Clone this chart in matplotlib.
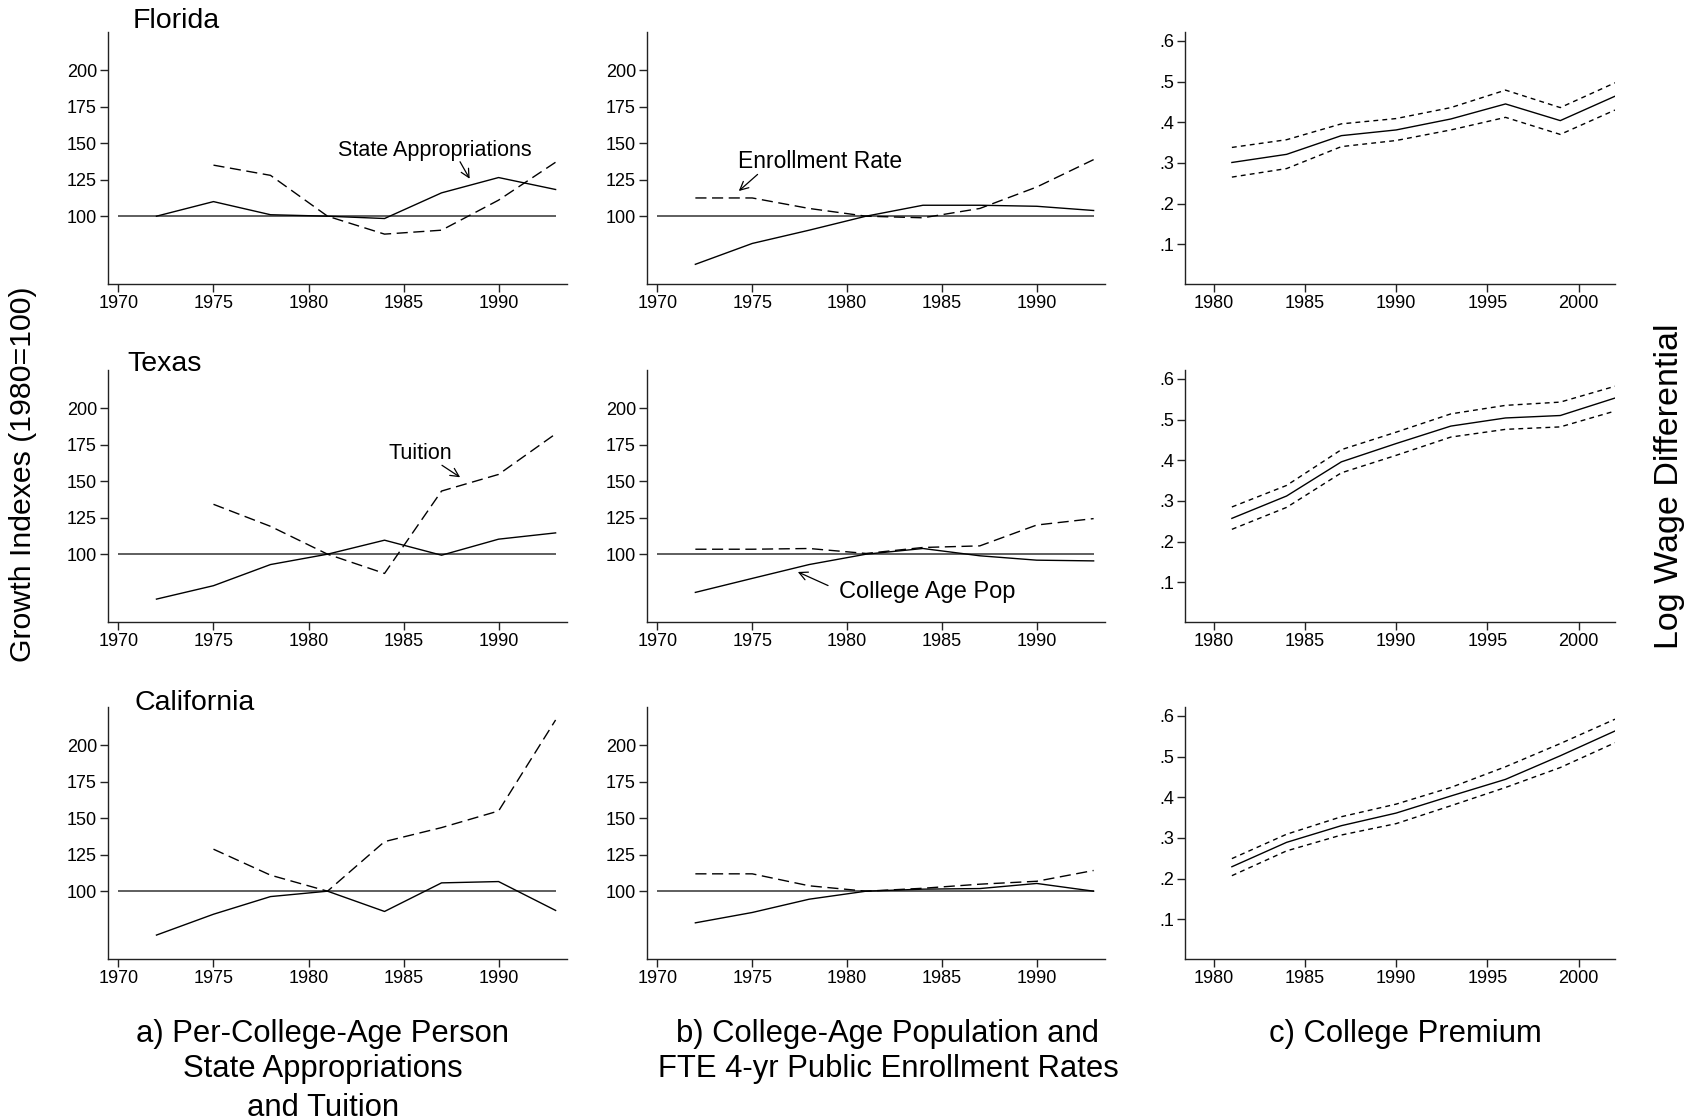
import matplotlib.pyplot as plt

plt.rcParams['font.family'] = ['Liberation Sans', 'DejaVu Sans']

# years
years_idx = [1972, 1975, 1978, 1981, 1984, 1987, 1990, 1993]
years_tuition = [1975, 1978, 1981, 1984, 1987, 1990, 1993]
years_prem = [1981, 1984, 1987, 1990, 1993, 1996, 1999, 2002]
ref_span = [1970, 1993]

states = ['Florida', 'Texas', 'California']

# a) appropriations (solid) and tuition (dashed), 1980=100
fl_approp = [100, 110, 101, 100, 98.4, 116, 126.5, 118.3]
fl_tuition = [135, 128, 100, 87.7, 90.4, 111, 137]
tx_approp = [69.2, 78.4, 92.9, 100, 109.6, 99.3, 110.3, 114.6]
tx_tuition = [134.2, 119.1, 100, 86.8, 143.3, 154.7, 182.5]
ca_approp = [69.9, 84.2, 96.3, 100, 86.1, 105.7, 106.6, 86.8]
ca_tuition = [128.8, 111, 100, 134, 143.6, 155, 217.4]

# b) college-age population (solid) and enrollment rate (dashed)
fl_pop = [67, 81.3, 90.4, 100, 107.5, 107.5, 106.8, 103.9]
fl_enroll = [112.5, 112.5, 105.3, 100, 98.9, 105.3, 120, 138.8]
tx_pop = [73.8, 83.4, 92.9, 100, 103.9, 98.9, 95.9, 95.4]
tx_enroll = [103.4, 103.4, 103.9, 100.5, 104.6, 105.7, 120, 124.4]
ca_pop = [78.3, 85.4, 94.5, 100, 101.4, 101.8, 105.3, 100]
ca_enroll = [111.9, 111.9, 103.7, 100, 102, 104.8, 106.8, 114.2]

# c) college premium with confidence band
fl_prem = [0.301, 0.321, 0.367, 0.381, 0.408, 0.445, 0.404, 0.464]
fl_prem_hi = [0.338, 0.357, 0.396, 0.409, 0.436, 0.479, 0.436, 0.497]
fl_prem_lo = [0.265, 0.286, 0.340, 0.355, 0.381, 0.412, 0.370, 0.430]
tx_prem = [0.257, 0.312, 0.396, 0.441, 0.484, 0.504, 0.510, 0.553]
tx_prem_hi = [0.285, 0.338, 0.426, 0.469, 0.514, 0.535, 0.543, 0.582]
tx_prem_lo = [0.230, 0.284, 0.369, 0.412, 0.457, 0.476, 0.482, 0.521]
ca_prem = [0.229, 0.289, 0.330, 0.361, 0.403, 0.444, 0.502, 0.563]
ca_prem_hi = [0.249, 0.309, 0.352, 0.383, 0.424, 0.475, 0.532, 0.592]
ca_prem_lo = [0.207, 0.268, 0.307, 0.335, 0.379, 0.424, 0.473, 0.534]

idx_ticks = [100, 125, 150, 175, 200]
prem_ticks = [0.1, 0.2, 0.3, 0.4, 0.5, 0.6]
prem_ticklabels = ['.1', '.2', '.3', '.4', '.5', '.6']

caption_a = ['a) Per-College-Age Person', 'State Appropriations', 'and Tuition']
caption_b = ['b) College-Age Population and', 'FTE 4-yr Public Enrollment Rates']
caption_c = ['c) College Premium']

W, H = 1699, 1120
col_left = [108, 647, 1185]
col_right = [567, 1105, 1615]
row_top = [32, 370, 707]
row_bottom = [284, 622, 959]
title_xy = [(133, 21), (127, 364), (134, 703)]

fig = plt.figure(figsize=(W / 100, H / 100), dpi=100)


def make_axes(r, c):
    x0 = col_left[c] / W
    y0 = 1 - row_bottom[r] / H
    w = (col_right[c] - col_left[c]) / W
    h = (row_bottom[r] - row_top[r]) / H
    ax = fig.add_axes([x0, y0, w, h])
    for side in ['top', 'right']:
        ax.spines[side].set_visible(False)
    for side in ['left', 'bottom']:
        ax.spines[side].set_linewidth(1.0)
        ax.spines[side].set_color('#222222')
    ax.tick_params(direction='out', length=6, width=1.0, labelsize=13,
                   pad=2, color='#222222')
    return ax


def index_panel(ax, x1, y1, x2, y2):
    ax.hlines(100, ref_span[0], ref_span[1], color='#333333', lw=1.1)
    ax.plot(x1, y1, color='black', lw=1.0)
    ax.plot(x2, y2, color='black', lw=1.0, dashes=(8, 4))
    ax.set_xlim(1969.45, 1993.6)
    ax.set_ylim(53.5, 226.3)
    ax.set_xticks(range(1970, 1991, 5))
    ax.set_yticks(idx_ticks)


def premium_panel(ax, mid, hi, lo):
    ax.plot(years_prem, mid, color='black', lw=1.0)
    ax.plot(years_prem, hi, color='black', lw=1.0, dashes=(3.5, 3))
    ax.plot(years_prem, lo, color='black', lw=1.0, dashes=(3.5, 3))
    ax.set_xlim(1978.43, 2002)
    ax.set_ylim(0.002, 0.622)
    ax.set_xticks(range(1980, 2001, 5))
    ax.set_yticks(prem_ticks)
    ax.set_yticklabels(prem_ticklabels)


approps = [fl_approp, tx_approp, ca_approp]
tuitions = [fl_tuition, tx_tuition, ca_tuition]
pops = [fl_pop, tx_pop, ca_pop]
enrolls = [fl_enroll, tx_enroll, ca_enroll]
prems = [(fl_prem, fl_prem_hi, fl_prem_lo),
         (tx_prem, tx_prem_hi, tx_prem_lo),
         (ca_prem, ca_prem_hi, ca_prem_lo)]

axes = []
for r in range(3):
    ax_a = make_axes(r, 0)
    index_panel(ax_a, years_idx, approps[r], years_tuition, tuitions[r])
    ax_b = make_axes(r, 1)
    index_panel(ax_b, years_idx, pops[r], years_idx, enrolls[r])
    ax_c = make_axes(r, 2)
    premium_panel(ax_c, *prems[r])
    axes.append((ax_a, ax_b, ax_c))
    tx, ty = title_xy[r]
    fig.text(tx / W, 1 - ty / H, states[r], fontsize=20.5, ha='left', va='center')

# labels with arrows
arrow = dict(arrowstyle='->', lw=0.9, color='black', mutation_scale=15)


def label(ax, text, txy, start, end, size):
    ax.text(txy[0], txy[1], text, fontsize=size, ha='center', va='center')
    ax.annotate('', xy=end, xytext=start, arrowprops=arrow)


label(axes[0][0], 'State Appropriations', (1986.65, 145), (1987.9, 139), (1988.55, 124), 15.5)
label(axes[0][1], 'Enrollment Rate', (1978.56, 137.2), (1975.39, 129.9), (1974.18, 116), 16.5)
label(axes[1][0], 'Tuition', (1985.89, 168.8), (1986.9, 162), (1988.1, 151.7), 15.5)
label(axes[1][1], 'College Age Pop', (1984.2, 73.8), (1979.13, 77.7), (1977.27, 88.6), 17)

# side labels
fig.text(23 / W, 1 - 474 / H, 'Growth Indexes (1980=100)', rotation=90,
         fontsize=21.8, ha='center', va='center')
fig.text(1670 / W, 1 - 486 / H, 'Log Wage Differential', rotation=90,
         fontsize=24.5, ha='center', va='center')

# captions under the columns
line_y = [1034, 1069, 1108]
for cx, lines in zip([323, 888, 1405], [caption_a, caption_b, caption_c]):
    for ly, line in zip(line_y, lines):
        fig.text(cx / W, 1 - ly / H, line, fontsize=22.3, ha='center', va='center')

fig.savefig('out.png', dpi=100, facecolor='white')
